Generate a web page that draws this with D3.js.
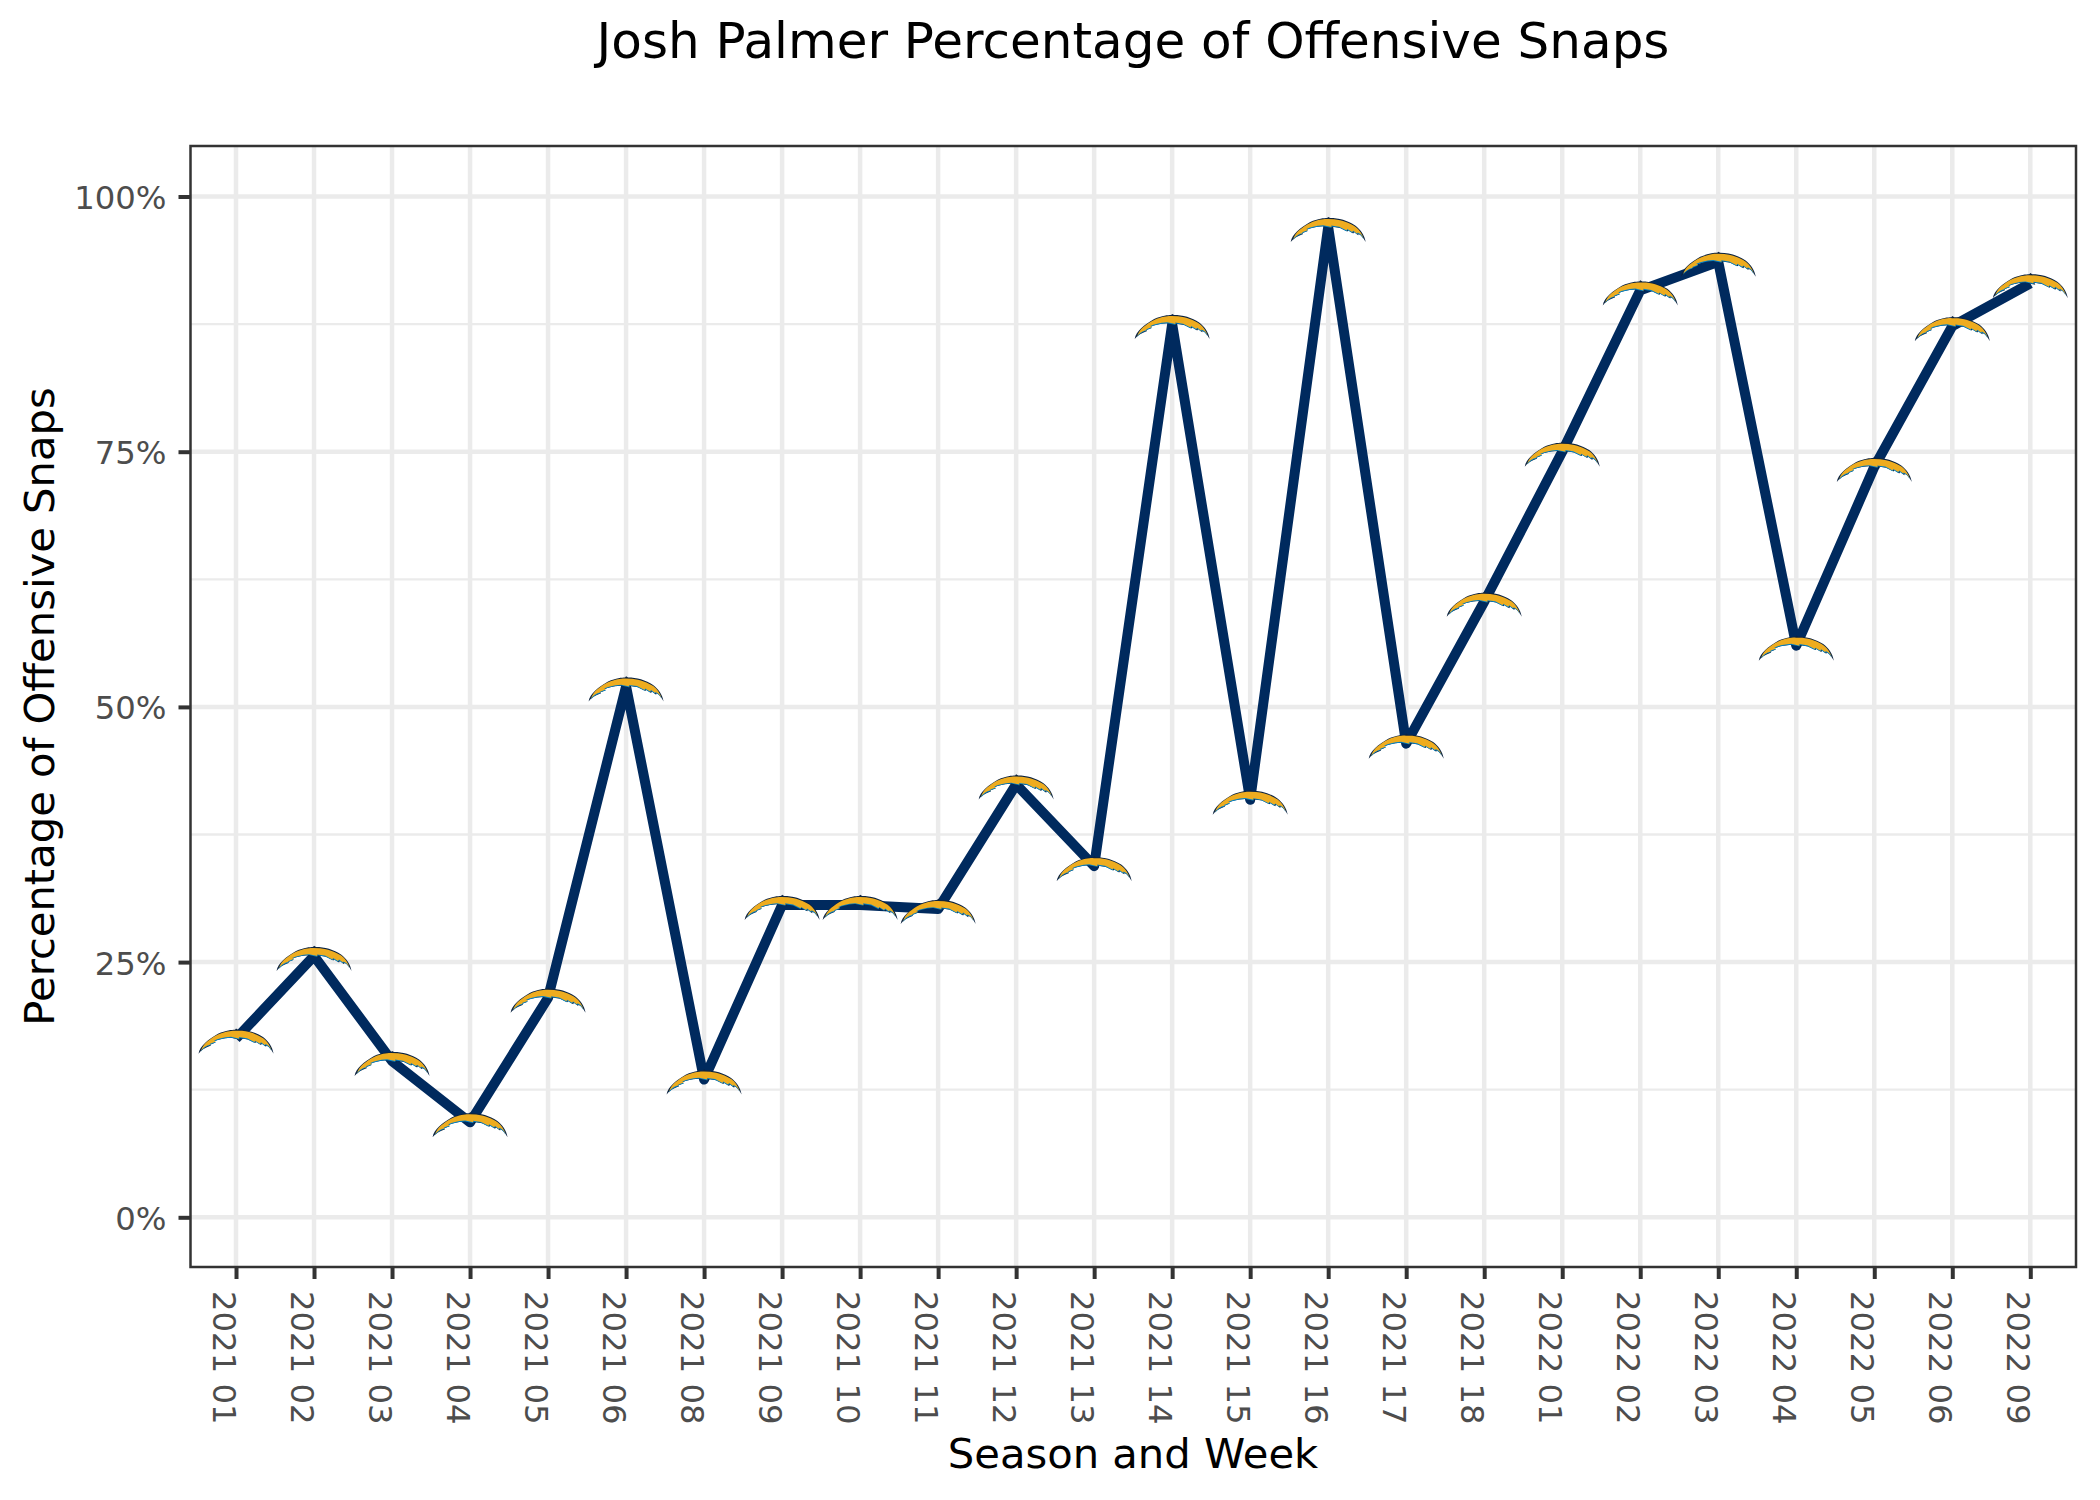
<!DOCTYPE html>
<html>
<head>
<meta charset="utf-8">
<script src="https://cdn.jsdelivr.net/npm/d3@7"></script>
<style>
  html, body { margin: 0; padding: 0; background: #fff; }
  svg { display: block; }
  text { font-family: "DejaVu Sans", sans-serif; }
</style>
</head>
<body>
<svg id="chart" width="2100" height="1500"></svg>
<script>
// semanas (temporada e semana)
const weeks = ['2021 01','2021 02','2021 03','2021 04','2021 05','2021 06','2021 08','2021 09','2021 10','2021 11','2021 12','2021 13','2021 14','2021 15','2021 16','2021 17','2021 18','2022 01','2022 02','2022 03','2022 04','2022 05','2022 06','2022 09'];
// porcentagem de snaps ofensivos
const snapPct = [0.175,0.256,0.153,0.093,0.215,0.52,0.135,0.306,0.306,0.302,0.424,0.344,0.875,0.409,0.97,0.464,0.603,0.75,0.908,0.936,0.56,0.735,0.873,0.915];
const majorTicks = [0,0.25,0.5,0.75,1];
const minorTicks = [0.125,0.375,0.625,0.875];

const esq = 190.5, dir = 2076, topo = 146, base = 1267;

const svg = d3.select('#chart');

const x = d3.scalePoint().domain(weeks).range([189.2, 2077.1]).padding(0.6);
const y = d3.scaleLinear().domain([0, 1]).range([1217.3, 196.5]);

//grade
svg.append('g').selectAll('line').data(minorTicks).join('line')
  .attr('x1', esq).attr('x2', dir)
  .attr('y1', d => y(d)).attr('y2', d => y(d))
  .attr('stroke', '#ebebeb').attr('stroke-width', 2.3);
svg.append('g').selectAll('line').data(majorTicks).join('line')
  .attr('x1', esq).attr('x2', dir)
  .attr('y1', d => y(d)).attr('y2', d => y(d))
  .attr('stroke', '#ebebeb').attr('stroke-width', 4.5);
svg.append('g').selectAll('line').data(weeks).join('line')
  .attr('x1', d => x(d)).attr('x2', d => x(d))
  .attr('y1', topo).attr('y2', base)
  .attr('stroke', '#ebebeb').attr('stroke-width', 4.5);

//linha
const line = d3.line().x((d, i) => x(weeks[i])).y(d => y(d));
svg.append('path').datum(snapPct)
  .attr('d', line)
  .attr('fill', 'none')
  .attr('stroke', '#002a5e')
  .attr('stroke-width', 10)
  .attr('stroke-linejoin', 'round')
  .attr('stroke-linecap', 'butt');

//raio dos Chargers, desenhado em volta de (0,0)
const raioFora = 'M-37.5,13 C-36,5 -28,-1 -18,-7 C-10,-10.5 -4,-11 -1,-11 L0,-12.2 L2,-11 C10,-11 20,-8.5 27,-3.6 C32,0 36.5,6 37.5,13 C35,8 33,6 30.5,4.8 L30,6.2 L26,2.8 L25,4.4 L20,1 L19.5,2.4 L12,-1.2 L4,-2.4 L5,-0.6 L-5,-2.8 C-14,-2.2 -19,-0.6 -22,1 L-20.5,1.8 L-26,4 L-25,4.8 C-31,6.8 -35,9.5 -37.5,13 Z';
const raioMeio = 'M-35,10 C-33,3 -26,-2 -18,-6.2 C-10,-9.6 -4,-10.2 -0.5,-10 L6,-9.8 C14,-9 22,-6 27.5,-2.2 C31,0.6 34,4.6 35.5,9.5 C33.5,6 32,4.4 29.5,3.4 L29,4.6 L25,1.6 L24,3 L19,0 L18.5,1.4 L11,-2.4 L3,-3.6 L3.5,-2 L-5,-3.8 C-13,-3.2 -18,-1.8 -22,0 L-20,0.8 L-26,3.2 L-25.5,3.8 C-30,5 -33,7.2 -35,10 Z';

const logos = svg.append('g').selectAll('g').data(snapPct).join('g')
  .attr('transform', (d, i) => `translate(${x(weeks[i])},${y(d) + 2})`);
logos.append('path').attr('d', raioFora).attr('fill', '#0c2340');
logos.append('path').attr('d', raioMeio).attr('fill', '#0080c6').attr('transform', 'translate(0,0.9)');
logos.append('path').attr('d', raioMeio).attr('fill', '#eeac1f');

//borda
svg.append('rect')
  .attr('x', esq).attr('y', topo)
  .attr('width', dir - esq).attr('height', base - topo)
  .attr('fill', 'none').attr('stroke', '#333333').attr('stroke-width', 2.5);

//eixos
const axisX = d3.axisBottom(x).tickSize(12).tickPadding(0);
const gx = svg.append('g').attr('transform', `translate(0,${base})`).call(axisX);
gx.select('.domain').remove();
gx.selectAll('.tick line').attr('stroke', '#333333').attr('stroke-width', 4);
gx.selectAll('.tick text')
  .attr('fill', '#4d4d4d')
  .attr('font-size', 32.3)
  .attr('font-family', '"DejaVu Sans", sans-serif')
  .attr('text-anchor', 'start')
  .attr('dy', 0)
  .attr('y', 0)
  .attr('transform', 'translate(-24,24) rotate(90)');

const axisY = d3.axisLeft(y).tickValues(majorTicks).tickFormat(d3.format('.0%')).tickSize(12).tickPadding(12);
const gy = svg.append('g').attr('transform', `translate(${esq},0)`).call(axisY);
gy.select('.domain').remove();
gy.selectAll('.tick line').attr('stroke', '#333333').attr('stroke-width', 4);
gy.selectAll('.tick text')
  .attr('fill', '#4d4d4d')
  .attr('font-size', 32.3)
  .attr('font-family', '"DejaVu Sans", sans-serif')
  .attr('dy', '0.37em');

//titulos
svg.append('text').attr('x', 1133).attr('y', 58)
  .attr('text-anchor', 'middle').attr('font-size', 50).attr('fill', '#000')
  .text('Josh Palmer Percentage of Offensive Snaps');
svg.append('text').attr('x', 1133).attr('y', 1468)
  .attr('text-anchor', 'middle').attr('font-size', 41.7).attr('fill', '#000')
  .text('Season and Week');
svg.append('text').attr('transform', 'translate(54,706.5) rotate(-90)')
  .attr('text-anchor', 'middle').attr('font-size', 41.7).attr('fill', '#000')
  .text('Percentage of Offensive Snaps');
</script>
</body>
</html>
